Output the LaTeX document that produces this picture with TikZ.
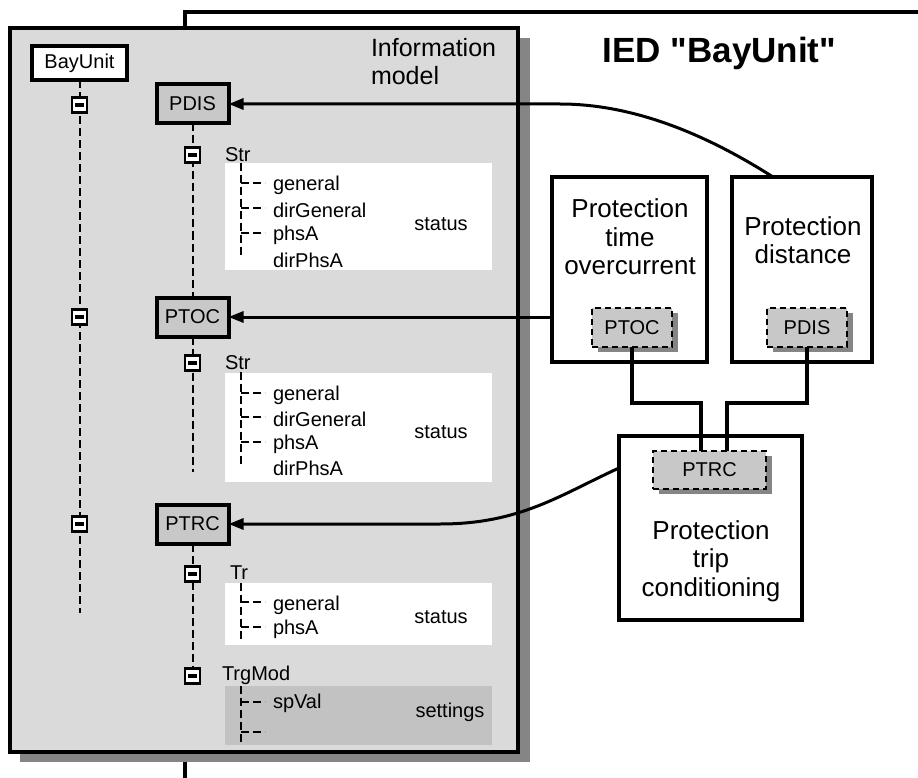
\documentclass[tikz,border=0pt]{standalone}
\usepackage{fontspec}
\setmainfont{Liberation Sans}[Ligatures=TeXOff]
\usetikzlibrary{arrows.meta,calc,shadows}
\definecolor{infogray}{HTML}{DADADA}
\definecolor{boxgray}{HTML}{C8C8C8}
\definecolor{setgray}{HTML}{C2C2C2}
\definecolor{shadowgray}{HTML}{858585}
\begin{document}
\begin{tikzpicture}[x=1pt,y=-1pt,
 every node/.style={inner sep=0pt, outer sep=0pt},
 txt/.style={font=\fontsize{20}{23}\selectfont},
 lnbox/.style={draw, line width=4pt, fill=boxgray, minimum width=72pt, minimum height=39pt, txt},
 minus/.style={draw, line width=2.6pt, fill=white, minimum size=15pt},
 tree/.style={line width=2pt, dash pattern=on 8pt off 4pt},
 itm/.style={anchor=west, txt},
 fbox/.style={draw, line width=3.5pt, fill=white},
 dbox/.style={draw, line width=2.2pt, dash pattern=on 6pt off 4pt, fill=boxgray, txt,
   drop shadow={shadow xshift=6pt, shadow yshift=-5pt, fill=shadowgray, opacity=1}},
 wire/.style={line width=3.5pt},
 arr/.style={line width=3pt, -{Triangle[length=15pt,width=11pt]}},
 big/.style={font=\fontsize{26}{28.5}\selectfont, align=center}
]
\useasboundingbox (0,0) rectangle (918,778);
\fill[white] (0,0) rectangle (918,778);
% IED frame
\draw[line width=3.5pt] (185,778) -- (185,12) -- (918,12);
% information model frame
\fill[shadowgray] (20,38) rectangle (530,762);
\draw[line width=4pt, fill=infogray] (10,28) rectangle (518,752);
\node[anchor=base west, font=\fontsize{25}{28}\selectfont] (infotxt) at (371,57) {Information};
\node[anchor=base west, font=\fontsize{25}{28}\selectfont] (modeltxt) at (371,85) {model};
\node[anchor=base, font=\bfseries\fontsize{35}{40}\selectfont] (title) at (719.5,63) {IED "BayUnit"};

% panels
\fill[white] (225,163) rectangle (492,270);
\fill[white] (225,373) rectangle (492,482);
\fill[white] (225,583) rectangle (492,645);
\fill[setgray] (225,686) rectangle (492,745);

% tree main nodes
\node[lnbox, fill=white, minimum width=95pt, minimum height=34pt] (bay) at (79.5,63) {BayUnit};
\node[lnbox] (pdis) at (192.5,104) {PDIS};
\node[lnbox] (ptoc) at (192.5,317) {PTOC};
\node[lnbox] (ptrc) at (192.5,524) {PTRC};

\coordinate (bayend) at (79.5,613);
\coordinate (ptocend) at (192.5,472);
\draw[tree] (bay.south) -- (bayend);
\draw[tree] (pdis.south) -- (ptoc.north);
\draw[tree] (ptoc.south) -- (ptocend);

\node[minus] (m1) at (79.5,105) {};
\node[minus] (m2) at (79.5,317) {};
\node[minus] (m3) at (79.5,524) {};
\node[minus] (s1) at (192.5,155) {};
\node[minus] (s2) at (192.5,363) {};
\node[minus] (s3) at (192.5,574) {};
\node[minus] (s4) at (192.5,676) {};
\draw[tree] (ptrc.south) -- (s3.north);
\draw[tree] (s3.south) -- (s4.north);
\foreach \n in {m1,m2,m3,s1,s2,s3,s4}
  \fill ([xshift=-4.5pt,yshift=-2pt]\n.center) rectangle ([xshift=4.5pt,yshift=2pt]\n.center);

\node[itm] (str1) at (225,155) {Str};
\node[itm] (str2) at (225,363) {Str};
\node[itm] (tr) at (230,573) {Tr};
\node[itm] (trg) at (222,675) {TrgMod};

% subtree PDIS
\draw[tree] (241,163) -- (241,257);
\foreach \y in {183,208,233} \draw[tree] (241,\y) -- (265,\y);
\node[itm] (a1) at (273,185) {general};
\node[itm] (a2) at (273,210) {dirGeneral};
\node[itm] (a3) at (273,235) {phsA};
\node[itm] (a4) at (273,260) {dirPhsA};
\node[txt] (st1) at (441,224) {status};
% subtree PTOC
\draw[tree] (241,372) -- (241,465);
\foreach \y in {393,417,442} \draw[tree] (241,\y) -- (265,\y);
\node[itm] (b1) at (273,395) {general};
\node[itm] (b2) at (273,419) {dirGeneral};
\node[itm] (b3) at (273,444) {phsA};
\node[itm] (b4) at (273,468) {dirPhsA};
\node[txt] (st2) at (441,432) {status};
% subtree Tr
\draw[tree] (241,583) -- (241,640);
\foreach \y in {602,627} \draw[tree] (241,\y) -- (265,\y);
\node[itm] (c1) at (273,605) {general};
\node[itm] (c2) at (273,629) {phsA};
\node[txt] (st3) at (441,617) {status};
% subtree TrgMod
\draw[tree] (241,686) -- (241,743);
\foreach \y in {702,732} \draw[tree] (241,\y) -- (265,\y);
\node[itm] (d1) at (273,703) {spVal};
\node[txt] (st4) at (450,712) {settings};

% right side functions
\node[fbox, minimum width=155pt, minimum height=185pt] (pto) at (629.5,269.5) {};
\node[big] (ptotxt) at (630,237) {Protection\\time\\overcurrent};
\node[fbox, minimum width=140pt, minimum height=185pt] (pdi) at (802,269.5) {};
\node[big] (pditxt) at (803,240) {Protection\\distance};
\node[fbox, minimum width=183pt, minimum height=184pt] (ptr) at (710.5,528) {};
\node[big] (ptrtxt) at (711,561) {Protection\\trip\\conditioning};

\node[dbox, minimum width=80pt, minimum height=39pt] (ptocd) at (632,327.5) {PTOC};
\node[dbox, minimum width=80pt, minimum height=39pt] (pdisd) at (807,327.5) {PDIS};
\node[dbox, minimum width=113pt, minimum height=38pt] (ptrcd) at (709.5,470) {PTRC};

% wires
\coordinate (w1) at (701,403);
\coordinate (w2) at (727,403);
\draw[wire] (ptocd.south) |- (w1) -- (w1 |- ptrcd.north);
\draw[wire] (pdisd.south) |- (w2) -- (w2 |- ptrcd.north);

% arrows
\coordinate (pdsrc) at (773,177);
\coordinate (ptsrc) at (619,468);
\draw[arr] (pdsrc) .. controls (715,140) and (640,104) .. (560,104) -- (pdis.east);
\draw[arr] (pto.west |- ptoc.east) -- (ptoc.east);
\draw[arr] (ptsrc) .. controls (560,495) and (520,524) .. (440,524) -- (ptrc.east);
\end{tikzpicture}
\end{document}
